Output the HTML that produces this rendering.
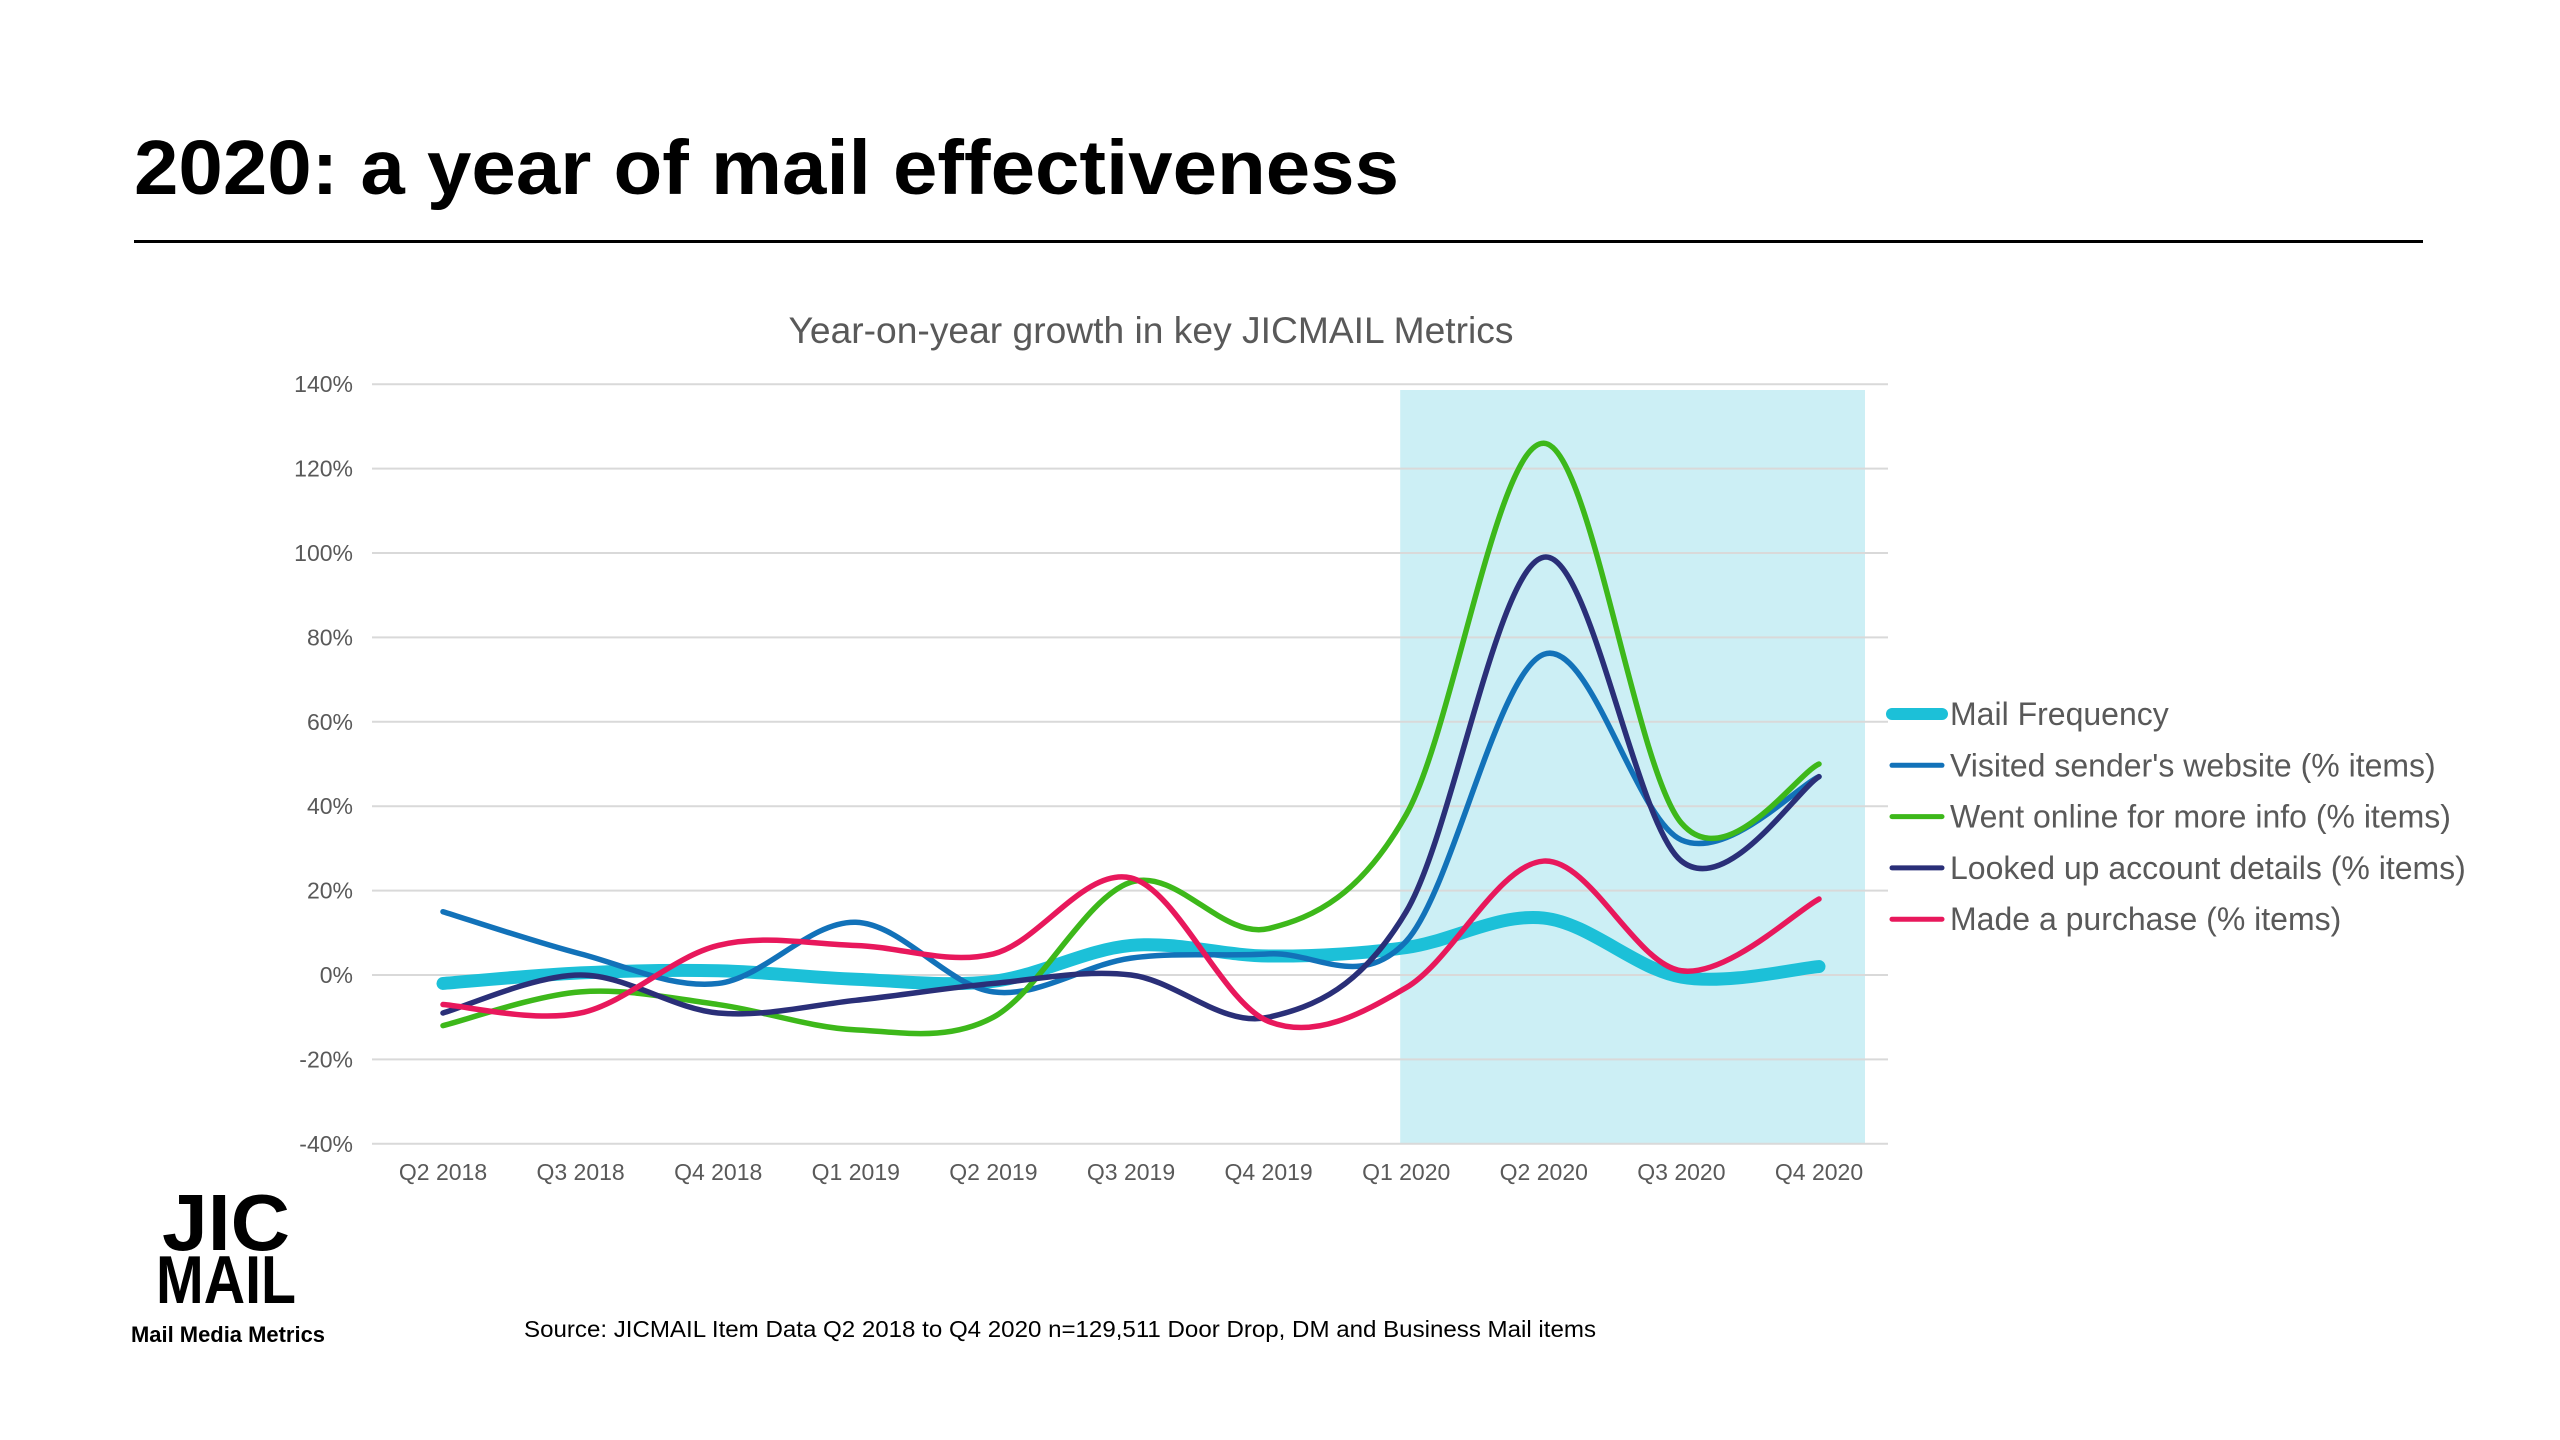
<!DOCTYPE html>
<html><head><meta charset="utf-8"><style>
html,body{margin:0;padding:0;background:#fff;}
svg{display:block;font-family:"Liberation Sans",sans-serif;}
</style></head><body>
<svg id="chart" width="2560" height="1440" viewBox="0 0 2560 1440" xmlns="http://www.w3.org/2000/svg">
<text x="134" y="194" font-size="77" font-weight="bold" fill="#000" textLength="1265" lengthAdjust="spacingAndGlyphs">2020: a year of mail effectiveness</text>
<rect x="134" y="240" width="2289" height="3" fill="#000"/>
<text x="1151" y="343" font-size="37" fill="#595959" text-anchor="middle" textLength="725" lengthAdjust="spacingAndGlyphs">Year-on-year growth in key JICMAIL Metrics</text>
<g id="shade"></g>
<g id="grid"></g>
<g id="yt"></g>
<g id="xt"></g>
<g id="series"></g>
<g id="legend"></g>
<g>
<text x="226" y="1250" font-size="80" font-weight="bold" fill="#000" text-anchor="middle" textLength="128" lengthAdjust="spacingAndGlyphs">JIC</text>
<text x="226" y="1303" font-size="68" font-weight="bold" fill="#000" text-anchor="middle" textLength="140" lengthAdjust="spacingAndGlyphs">MAIL</text>
<text x="131" y="1342" font-size="22" font-weight="bold" fill="#000" textLength="194" lengthAdjust="spacingAndGlyphs">Mail Media Metrics</text>
</g>
<text x="524" y="1337" font-size="23" fill="#000" textLength="1072" lengthAdjust="spacingAndGlyphs">Source: JICMAIL Item Data Q2 2018 to Q4 2020 n=129,511 Door Drop, DM and Business Mail items</text>
</svg>
<script>
const categories=["Q2 2018","Q3 2018","Q4 2018","Q1 2019","Q2 2019","Q3 2019","Q4 2019","Q1 2020","Q2 2020","Q3 2020","Q4 2020"];
const yTicks=[140,120,100,80,60,40,20,0,-20,-40];
const mailFrequency=[-2,0.5,1,-1,-1.5,7,4.5,6.5,13.5,-0.5,2];
const visitedWebsite=[15,5,-2,12.5,-4,4,5,8,76,32,47];
const wentOnline=[-12,-4,-7,-13,-10,22,11,38,126,36,50];
const lookedUp=[-9,0,-9,-6,-2,0,-10,15,99,27,47];
const madePurchase=[-7,-9,7,7,5,23,-11,-3,27,1,18];
const seriesNames=["Mail Frequency","Visited sender's website (% items)","Went online for more info (% items)","Looked up account details (% items)","Made a purchase (% items)"];
const highlightFrom="Q1 2020", highlightTo="Q4 2020";

const NS="http://www.w3.org/2000/svg";
const X0=443,X1=1819,Y0=975,YPER=84.4/20;
const x=i=>X0+i*(X1-X0)/(categories.length-1);
const y=v=>Y0-v*YPER;
function mk(tag,attrs,parent){const e=document.createElementNS(NS,tag);for(const k in attrs)e.setAttribute(k,attrs[k]);parent.appendChild(e);return e;}

const hx0=x(categories.indexOf(highlightFrom))-6, hx1=x(categories.indexOf(highlightTo))+46;
const sh=mk('rect',{x:hx0,y:390,width:hx1-hx0,height:y(-40)-390,fill:'#CCEFF5'},document.getElementById('shade'));



const grid=document.getElementById('grid'),yt=document.getElementById('yt'),xt=document.getElementById('xt');
yTicks.forEach(t=>{
  const l=mk('line',{x1:372,x2:1888,y1:y(t),y2:y(t),stroke:'#D9D9D9','stroke-width':2},grid);
  
  
  const tx=mk('text',{x:353,y:y(t)+8,'font-size':23,fill:'#595959','text-anchor':'end'},yt);
  tx.textContent=t+'%';
  
  
});
categories.forEach((c,i)=>{
  const tx=mk('text',{x:x(i),y:1180,'font-size':23,fill:'#595959','text-anchor':'middle'},xt);
  tx.textContent=c;
  
  
});
function pathFor(vals){
  const p=vals.map((v,i)=>[x(i),y(v)]);
  let d='M'+p[0][0]+','+p[0][1];
  for(let i=0;i<p.length-1;i++){
    const a=p[i-1]||p[i],b=p[i],c=p[i+1],e=p[i+2]||p[i+1],t=1/6;
    d+=' C'+(b[0]+(c[0]-a[0])*t)+','+(b[1]+(c[1]-a[1])*t)+' '+(c[0]-(e[0]-b[0])*t)+','+(c[1]-(e[1]-b[1])*t)+' '+c[0]+','+c[1];
  }
  return d;
}
const all=[mailFrequency,visitedWebsite,wentOnline,lookedUp,madePurchase];
const colors=['#1CC0D8','#1272B9','#3DB81A','#2A2F78','#E8185C'];
const widths=[13,5.5,5.5,5.5,5.5];
const slugs=['mail-frequency','visited-website','went-online','looked-up-account','made-purchase'];
const sg=document.getElementById('series'),lg=document.getElementById('legend');
all.forEach((vals,k)=>{
  const p=mk('path',{d:pathFor(vals),fill:'none',stroke:colors[k],'stroke-width':widths[k],'stroke-linecap':'round','stroke-linejoin':'round'},sg);
  
  
});
all.forEach((vals,k)=>{
  const ly=714+k*51.3;
  const g=mk('g',{},lg);
  
  
  mk('line',{x1:1892,x2:1942,y1:ly,y2:ly,stroke:colors[k],'stroke-width':widths[k]===13?12:5,'stroke-linecap':'round'},g);
  const t=mk('text',{x:1950,y:ly+11,'font-size':32,fill:'#595959'},g);
  t.textContent=seriesNames[k];
});
</script>
</body></html>
